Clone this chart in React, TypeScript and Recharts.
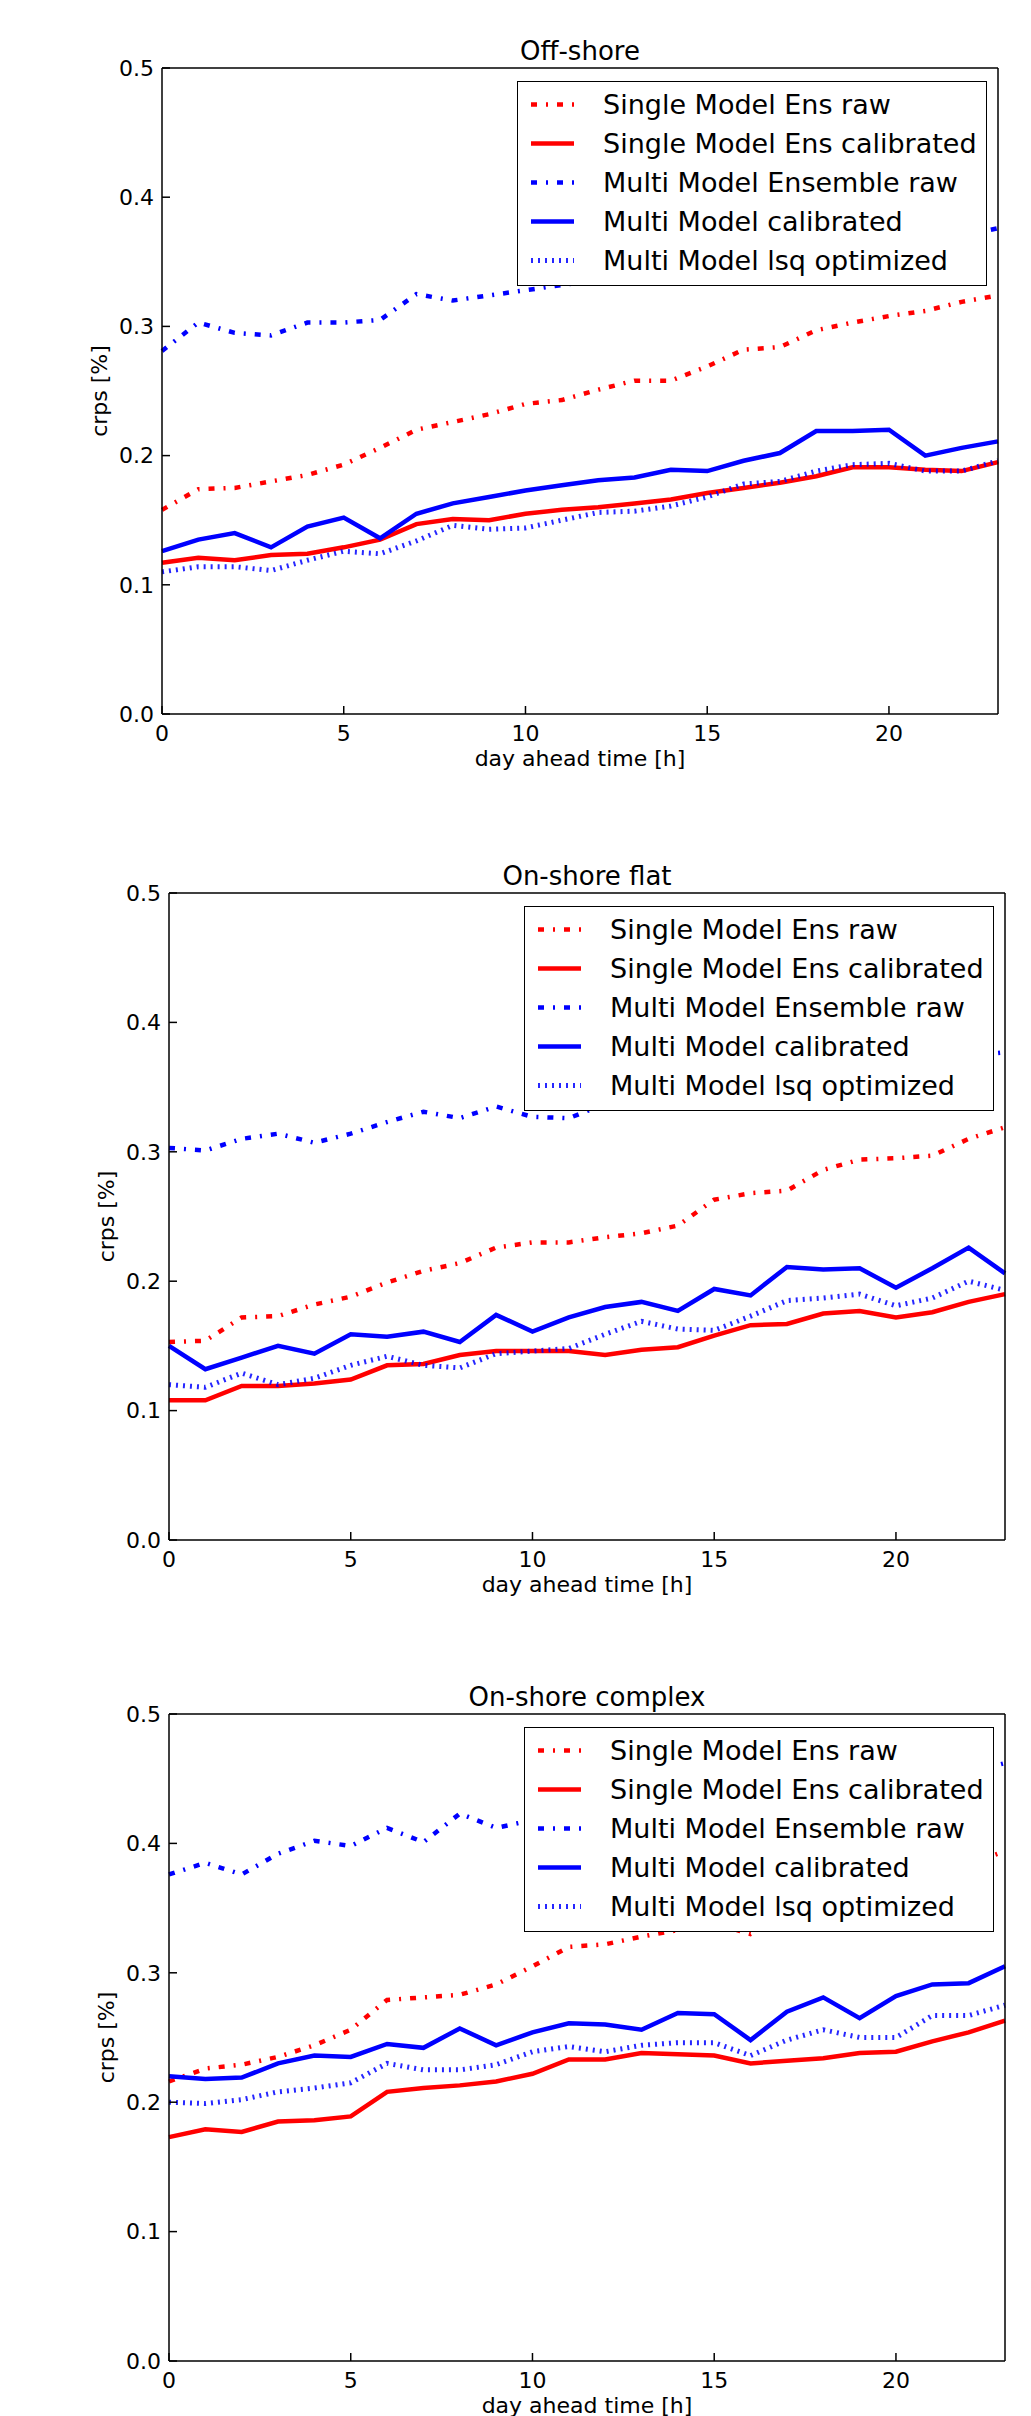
import React from 'react';
import { LineChart, Line, XAxis, YAxis, Legend } from 'recharts';

// hours of the day-ahead horizon
const HOURS = [0, 1, 2, 3, 4, 5, 6, 7, 8, 9, 10, 11, 12, 13, 14, 15, 16, 17, 18, 19, 20, 21, 22, 23];
const X_TICKS = [0, 5, 10, 15, 20];
const Y_TICKS = [0, 0.1, 0.2, 0.3, 0.4, 0.5];

// Off-shore
const OFF_SMR = [0.158, 0.174, 0.175, 0.180, 0.185, 0.193, 0.206, 0.220, 0.226, 0.232, 0.240, 0.243, 0.251, 0.258, 0.258, 0.269, 0.282, 0.284, 0.297, 0.303, 0.308, 0.312, 0.319, 0.324];
const OFF_SMC = [0.117, 0.121, 0.119, 0.123, 0.124, 0.129, 0.135, 0.147, 0.151, 0.150, 0.155, 0.158, 0.160, 0.163, 0.166, 0.171, 0.175, 0.179, 0.184, 0.191, 0.191, 0.189, 0.188, 0.195];
const OFF_MMR = [0.281, 0.303, 0.295, 0.293, 0.303, 0.303, 0.305, 0.325, 0.320, 0.324, 0.328, 0.332, 0.336, 0.340, 0.338, 0.345, 0.349, 0.352, 0.358, 0.356, 0.362, 0.366, 0.370, 0.376];
const OFF_MMC = [0.126, 0.135, 0.140, 0.129, 0.145, 0.152, 0.136, 0.155, 0.163, 0.168, 0.173, 0.177, 0.181, 0.183, 0.189, 0.188, 0.196, 0.202, 0.219, 0.219, 0.220, 0.200, 0.206, 0.211];
const OFF_LSQ = [0.110, 0.114, 0.114, 0.111, 0.119, 0.126, 0.124, 0.134, 0.146, 0.143, 0.144, 0.150, 0.156, 0.157, 0.161, 0.168, 0.178, 0.180, 0.188, 0.193, 0.194, 0.188, 0.188, 0.196];

// On-shore flat
const FLAT_SMR = [0.153, 0.154, 0.172, 0.173, 0.182, 0.188, 0.199, 0.208, 0.214, 0.226, 0.230, 0.230, 0.234, 0.237, 0.243, 0.263, 0.268, 0.270, 0.286, 0.294, 0.295, 0.297, 0.310, 0.319];
const FLAT_SMC = [0.108, 0.108, 0.119, 0.119, 0.121, 0.124, 0.135, 0.136, 0.143, 0.146, 0.146, 0.146, 0.143, 0.147, 0.149, 0.158, 0.166, 0.167, 0.175, 0.177, 0.172, 0.176, 0.184, 0.190];
const FLAT_MMR = [0.303, 0.301, 0.310, 0.314, 0.307, 0.314, 0.323, 0.331, 0.326, 0.335, 0.327, 0.326, 0.337, 0.342, 0.345, 0.350, 0.352, 0.357, 0.360, 0.362, 0.366, 0.370, 0.374, 0.377];
const FLAT_MMC = [0.150, 0.132, 0.141, 0.150, 0.144, 0.159, 0.157, 0.161, 0.153, 0.174, 0.161, 0.172, 0.180, 0.184, 0.177, 0.194, 0.189, 0.211, 0.209, 0.210, 0.195, 0.210, 0.226, 0.206];
const FLAT_LSQ = [0.120, 0.118, 0.129, 0.120, 0.125, 0.135, 0.142, 0.135, 0.133, 0.144, 0.146, 0.148, 0.159, 0.169, 0.163, 0.162, 0.173, 0.185, 0.187, 0.190, 0.181, 0.187, 0.200, 0.193];

// On-shore complex
const CPLX_SMR = [0.216, 0.226, 0.229, 0.235, 0.244, 0.256, 0.279, 0.281, 0.283, 0.291, 0.305, 0.320, 0.322, 0.328, 0.333, 0.338, 0.330, 0.345, 0.352, 0.360, 0.368, 0.375, 0.384, 0.394];
const CPLX_SMC = [0.173, 0.179, 0.177, 0.185, 0.186, 0.189, 0.208, 0.211, 0.213, 0.216, 0.222, 0.233, 0.233, 0.238, 0.237, 0.236, 0.230, 0.232, 0.234, 0.238, 0.239, 0.247, 0.254, 0.263];
const CPLX_MMR = [0.376, 0.385, 0.376, 0.392, 0.402, 0.398, 0.412, 0.401, 0.423, 0.412, 0.418, 0.423, 0.420, 0.428, 0.431, 0.436, 0.430, 0.438, 0.444, 0.441, 0.448, 0.452, 0.455, 0.462];
const CPLX_MMC = [0.220, 0.218, 0.219, 0.230, 0.236, 0.235, 0.245, 0.242, 0.257, 0.244, 0.254, 0.261, 0.260, 0.256, 0.269, 0.268, 0.248, 0.270, 0.281, 0.265, 0.282, 0.291, 0.292, 0.305];
const CPLX_LSQ = [0.200, 0.199, 0.202, 0.208, 0.211, 0.215, 0.230, 0.225, 0.225, 0.229, 0.239, 0.243, 0.239, 0.244, 0.246, 0.246, 0.236, 0.248, 0.256, 0.250, 0.250, 0.267, 0.267, 0.275];

const FONT = '"DejaVu Sans", sans-serif';
const DASHDOT = '6 9 2 9';

const SERIES = [
  { key: 'smr', name: 'Single Model Ens raw', color: '#ff0000', dash: DASHDOT, width: 4.5, opacity: 1 },
  { key: 'smc', name: 'Single Model Ens calibrated', color: '#ff0000', dash: undefined, width: 4.5, opacity: 1 },
  { key: 'mmr', name: 'Multi Model Ensemble raw', color: '#0000ff', dash: DASHDOT, width: 4.5, opacity: 1 },
  { key: 'mmc', name: 'Multi Model calibrated', color: '#0000ff', dash: undefined, width: 4.5, opacity: 1 },
  { key: 'lsq', name: 'Multi Model lsq optimized', color: '#0000ff', dash: '2 5', width: 5, opacity: 0.85 },
];

const buildRows = (smr: number[], smc: number[], mmr: number[], mmc: number[], lsq: number[]) =>
  HOURS.map((h, i) => ({ h, smr: smr[i], smc: smc[i], mmr: mmr[i], mmc: mmc[i], lsq: lsq[i] }));

const renderLegend = () => (
  <div style={{ position: 'relative', width: 470, height: 205, boxSizing: 'border-box', border: '1.5px solid #000', background: '#fff', fontFamily: FONT }}>
    {SERIES.map((s, i) => (
      <div key={s.key} style={{ position: 'absolute', left: 0, top: 3 + i * 39, height: 39, display: 'flex', alignItems: 'center' }}>
        <svg width={85} height={39}>
          <line x1={13} x2={56} y1={19.5} y2={19.5} stroke={s.color} strokeWidth={s.width}
            strokeDasharray={s.dash} strokeOpacity={s.opacity} />
        </svg>
        <span style={{ fontSize: 27, color: '#000', whiteSpace: 'nowrap', lineHeight: '39px' }}>{s.name}</span>
      </div>
    ))}
  </div>
);

interface PanelProps {
  title: string;
  top: number;
  plotLeft: number;
  plotRight: number;
  plotH: number;
  height: number;
  rows: any[];
}

const Panel: React.FC<PanelProps> = ({ title, top, plotLeft, plotRight, plotH, height, rows }) => {
  const W = 1031;
  const plotTop = 68;
  // top axis is 1px high and right axis 1px wide, so they are taken out of the margins
  const margin = { top: plotTop - 1, left: plotLeft - 80, right: W - plotRight - 1, bottom: height - plotTop - plotH - 50 };
  const tickStyle = { fill: '#000', fontSize: 22, fontFamily: FONT };
  const axisLine = { stroke: '#000', strokeWidth: 1.5 };
  const tickLine = { stroke: '#000', strokeWidth: 1.5 };

  return (
    <div style={{ position: 'absolute', left: 0, top }}>
      <LineChart width={W} height={height} data={rows} margin={margin}>
        <XAxis xAxisId="b" dataKey="h" type="number" domain={[0, 23]} ticks={X_TICKS} interval={0}
          height={50} tickSize={-8} tickMargin={19} tick={tickStyle} axisLine={axisLine} tickLine={tickLine}
          label={{
            content: () => (
              <text x={(plotLeft + plotRight) / 2} y={plotTop + plotH + 52} textAnchor="middle"
                fontSize={22} fontFamily={FONT} fill="#000">day ahead time [h]</text>
            ),
          }} />
        <XAxis xAxisId="t" dataKey="h" type="number" orientation="top" domain={[0, 23]} ticks={X_TICKS} interval={0}
          height={1} tickSize={-8} tick={false} axisLine={axisLine} tickLine={tickLine}
          label={{
            content: () => (
              <text x={(plotLeft + plotRight) / 2} y={plotTop - 8.5} textAnchor="middle"
                fontSize={26} fontFamily={FONT} fill="#000">{title}</text>
            ),
          }} />
        <YAxis yAxisId="l" type="number" domain={[0, 0.5]} ticks={Y_TICKS} interval={0} width={80}
          tickSize={-8} tickMargin={16} tick={tickStyle} axisLine={axisLine} tickLine={tickLine}
          tickFormatter={(v: number) => v.toFixed(1)}
          label={{
            content: () => {
              const cx = plotLeft - 55;
              const cy = plotTop + plotH / 2;
              return (
                <text x={cx} y={cy} transform={`rotate(-90 ${cx} ${cy})`} textAnchor="middle"
                  fontSize={22} fontFamily={FONT} fill="#000">crps [%]</text>
              );
            },
          }} />
        <YAxis yAxisId="r" type="number" orientation="right" domain={[0, 0.5]} ticks={Y_TICKS} interval={0}
          width={1} tickSize={-8} tick={false} axisLine={axisLine} tickLine={tickLine} />
        {SERIES.map((s) => (
          <Line key={s.key} xAxisId="b" yAxisId="l" type="linear" dataKey={s.key} name={s.name}
            stroke={s.color} strokeWidth={s.width} strokeDasharray={s.dash} strokeOpacity={s.opacity}
            dot={false} activeDot={false} isAnimationActive={false} />
        ))}
        <Legend layout="vertical" align="center" verticalAlign="middle" content={renderLegend}
          wrapperStyle={{ left: plotRight - 11 - 470, top: plotTop + 13, width: 470, height: 205 }} />
      </LineChart>
    </div>
  );
};

const App: React.FC = () => (
  <div style={{ position: 'absolute', left: 0, top: 0, width: 1031, height: 2416, background: '#fff', overflow: 'hidden' }}>
    <Panel title="Off-shore" top={0} plotLeft={162} plotRight={998} plotH={646} height={810}
      rows={buildRows(OFF_SMR, OFF_SMC, OFF_MMR, OFF_MMC, OFF_LSQ)} />
    <Panel title="On-shore flat" top={825} plotLeft={169} plotRight={1005} plotH={647} height={810}
      rows={buildRows(FLAT_SMR, FLAT_SMC, FLAT_MMR, FLAT_MMC, FLAT_LSQ)} />
    <Panel title="On-shore complex" top={1646} plotLeft={169} plotRight={1005} plotH={647} height={770}
      rows={buildRows(CPLX_SMR, CPLX_SMC, CPLX_MMR, CPLX_MMC, CPLX_LSQ)} />
  </div>
);

export default App;
